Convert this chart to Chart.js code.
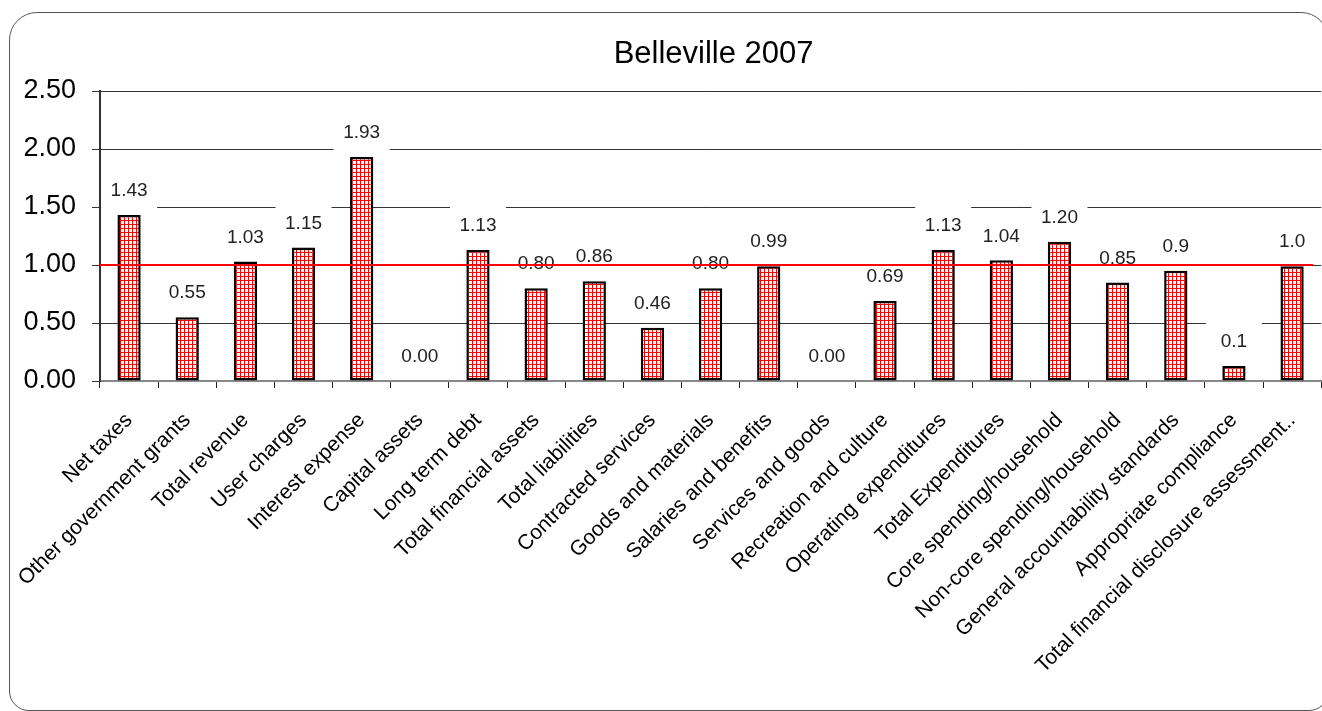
<!DOCTYPE html>
<html>
<head>
<meta charset="utf-8">
<script src="https://cdn.jsdelivr.net/npm/chart.js@4/dist/chart.umd.min.js"></script>
<style>
    html, body { margin: 0; padding: 0; background: #fff; }
    #wrap { position: relative; width: 1322px; height: 711px; overflow: hidden; }
    #frame {
        position: absolute; left: 9px; top: 12px; width: 1320px; height: 699px;
        border: 1.5px solid #555; border-radius: 28px 28px 20px 20px; box-sizing: border-box;
    }
    canvas { position: absolute; left: 0; top: 0; }
</style>
</head>
<body>
<div id="wrap">
    <div id="frame"></div>
    <canvas id="myChart" width="1330" height="711"></canvas>
</div>
<script>
var chartTitle = "Belleville 2007";

var categories = [
    "Net taxes",
    "Other government grants",
    "Total revenue",
    "User charges",
    "Interest expense",
    "Capital assets",
    "Long term debt",
    "Total financial assets",
    "Total liabilities",
    "Contracted services",
    "Goods and materials",
    "Salaries and benefits",
    "Services and goods",
    "Recreation and culture",
    "Operating expenditures",
    "Total Expenditures",
    "Core spending/household",
    "Non-core spending/household",
    "General accountability standards",
    "Appropriate compliance",
    "Total financial disclosure assessment.."
];

var values = [1.43, 0.55, 1.03, 1.15, 1.93, 0.00, 1.13, 0.80, 0.86, 0.46, 0.80,
              0.99, 0.00, 0.69, 1.13, 1.04, 1.20, 0.85, 0.95, 0.13, 0.99];

// labels as printed above the bars
var valueLabels = ["1.43", "0.55", "1.03", "1.15", "1.93", "0.00", "1.13", "0.80", "0.86", "0.46", "0.80",
                   "0.99", "0.00", "0.69", "1.13", "1.04", "1.20", "0.85", "0.9", "0.1", "1.0"];

var yTicks = [0, 0.5, 1.0, 1.5, 2.0, 2.5];
var referenceValue = 1.0;

var FONT = '"Liberation Sans", Arial, sans-serif';

function main() {
    document.addEventListener("DOMContentLoaded", () => {
        chart();
    }, false);
};

function gridPattern() {
    var c = document.createElement('canvas');
    c.width = 4;
    c.height = 4;
    var g = c.getContext('2d');
    g.fillStyle = '#ffffff';
    g.fillRect(0, 0, 4, 4);
    g.fillStyle = '#ff0000';
    g.fillRect(0, 0, 4, 1);
    g.fillRect(0, 0, 1, 4);
    return g.createPattern(c, 'repeat');
}

// white boxes with the values, drawn under the bars but over the grid
var valueBoxes = {
    id: 'valueBoxes',
    beforeDatasetsDraw: function (chart) {
        var ctx = chart.ctx,
            meta = chart.getDatasetMeta(0);
        ctx.save();
        ctx.font = '19px ' + FONT;
        ctx.textAlign = 'center';
        ctx.textBaseline = 'middle';
        meta.data.forEach(function (bar, i) {
            var y = bar.y - 24;
            ctx.fillStyle = '#ffffff';
            ctx.fillRect(bar.x - 28, y - 19, 56, 36);
            ctx.fillStyle = '#222';
            ctx.fillText(valueLabels[i], bar.x, y);
        });
        ctx.restore();
    }
};

var refLine = {
    id: 'refLine',
    afterDatasetsDraw: function (chart) {
        var ctx = chart.ctx,
            area = chart.chartArea,
            y = chart.scales.y.getPixelForValue(referenceValue);
        ctx.save();
        ctx.strokeStyle = '#ff0000';
        ctx.lineWidth = 2;
        ctx.beginPath();
        ctx.moveTo(area.left, y);
        ctx.lineTo(area.right - 8, y);
        ctx.stroke();
        ctx.restore();
    }
};

var titleText = {
    id: 'titleText',
    afterDraw: function (chart) {
        var ctx = chart.ctx,
            area = chart.chartArea;
        ctx.save();
        ctx.font = '31px ' + FONT;
        ctx.fillStyle = '#000';
        ctx.textAlign = 'center';
        ctx.textBaseline = 'middle';
        ctx.fillText(chartTitle, (area.left + area.right) / 2 + 3, 54);
        ctx.restore();
    }
};

function chart() {
    var ctx = document.getElementById('myChart').getContext('2d'),
        data = {
            labels: categories,
            datasets: [{
                data: values,
                backgroundColor: gridPattern(),
                borderColor: '#000',
                borderWidth: 2.5,
                borderSkipped: false,
                barPercentage: 0.4,
                categoryPercentage: 1.0
            }]
        };

    new Chart(ctx, {
        type: 'bar',
        data: data,
        plugins: [valueBoxes, refLine, titleText],
        options: {
            responsive: false,
            animation: false,
            layout: {
                padding: { top: 91, left: 20, right: 4, bottom: 0 }
            },
            plugins: {
                legend: { display: false },
                tooltip: { enabled: false },
                title: { display: false }
            },
            scales: {
                x: {
                    grid: {
                        drawOnChartArea: false,
                        drawTicks: true,
                        tickLength: 7,
                        color: '#222'
                    },
                    border: { color: '#888', width: 2 },
                    ticks: {
                        color: '#000',
                        font: { family: FONT, size: 21 },
                        maxRotation: 45,
                        minRotation: 45,
                        autoSkip: false,
                        padding: 20
                    },
                    afterFit: function (scale) {
                        scale.height = 330;
                    }
                },
                y: {
                    min: 0,
                    max: 2.5,
                    afterBuildTicks: function (scale) {
                        scale.ticks = yTicks.map(function (v) { return { value: v }; });
                    },
                    grid: {
                        color: '#333',
                        lineWidth: 1,
                        tickLength: 8
                    },
                    border: { color: '#333', width: 2 },
                    ticks: {
                        color: '#000',
                        font: { family: FONT, size: 27 },
                        padding: 16,
                        callback: function (v) { return Number(v).toFixed(2); }
                    },
                    afterFit: function (scale) {
                        scale.width = 80;
                    }
                }
            }
        }
    });
};

main();
</script>
</body>
</html>
